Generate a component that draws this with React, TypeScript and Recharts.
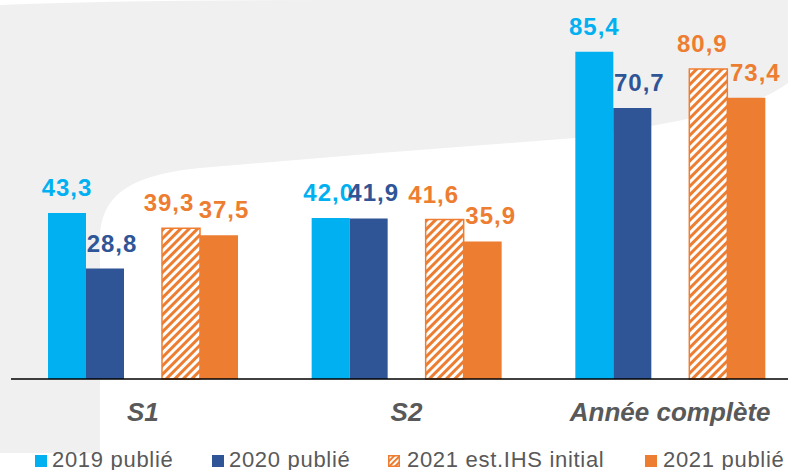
import React from "react";
import { Bar, BarChart, XAxis, YAxis } from "recharts";

const categories = ["S1", "S2", "Année complète"];
const pub2019 = [43.3, 42.0, 85.4];
const pub2020 = [28.8, 41.9, 70.7];
const est2021 = [39.3, 41.6, 80.9];
const pub2021 = [37.5, 35.9, 73.4];

const legendLabels = ["2019 publié", "2020 publié", "2021 est.IHS initial", "2021 publié"];

// small horizontal nudges so the value labels don't collide (like the original)
const nudge2019 = [0, -2, 0];
const nudge2020 = [7, 5, 7];
const nudgeEst = [-12, -11, -6];
const nudge2021 = [5, 8, 9];

const C2019 = "#00B0F0";
const C2020 = "#2F5597";
const C2021 = "#ED7D31";
const GREY_TEXT = "#595959";

const data = categories.map((name, i) => ({
  name,
  p2019: pub2019[i],
  p2020: pub2020[i],
  e2021: est2021[i],
  p2021: pub2021[i],
}));

const fmt = (v: number) => v.toFixed(1).replace(".", ",");

function makeLabel(color: string, nudges: number[]) {
  return (props: any) => {
    const vb = props.viewBox ?? {};
    const x = props.x ?? vb.x;
    const y = props.y ?? vb.y;
    const width = props.width ?? vb.width;
    const dx = nudges[props.index] ?? 0;
    if (props.value == null) return null;
    return (
      <text
        x={x + width / 2 + dx}
        y={y - 17}
        textAnchor="middle"
        fill={color}
        fontSize={24}
        fontWeight={700}
        letterSpacing={1}
        fontFamily="'Liberation Sans', Arial, sans-serif"
      >
        {fmt(Number(props.value))}
      </text>
    );
  };
}

const CategoryTick = (props: any) => {
  const { x, y, payload } = props;
  return (
    <text
      x={x}
      y={y + 42}
      textAnchor="middle"
      fill={GREY_TEXT}
      fontSize={26}
      fontWeight={700}
      fontStyle="italic"
      fontFamily="'Liberation Sans', Arial, sans-serif"
    >
      {payload.value}
    </text>
  );
};

const legendPos = [
  { box: 35, text: 52 },
  { box: 212, text: 229 },
  { box: 388, text: 407 },
  { box: 645, text: 663 },
];

function LegendSwatch({ i }: { i: number }) {
  if (i === 2) {
    return (
      <svg width={12} height={12} style={{ display: "block" }}>
        <rect x={0.75} y={0.75} width={10.5} height={10.5} fill="url(#hatchSmall)" stroke={C2021} strokeWidth={1.5} />
      </svg>
    );
  }
  const fill = [C2019, C2020, C2021, C2021][i];
  return <div style={{ width: 12, height: 12, background: fill }} />;
}

export default function App() {
  return (
    <div
      style={{
        position: "absolute",
        left: 0,
        top: 0,
        width: 788,
        height: 470,
        overflow: "hidden",
        background: "#fff",
        fontFamily: "'Liberation Sans', Arial, sans-serif",
      }}
    >
      <svg width={788} height={470} style={{ position: "absolute", left: 0, top: 0 }}>
        <defs>
          <pattern id="hatchSmall" patternUnits="userSpaceOnUse" width={4} height={4} patternTransform="rotate(45)">
            <rect width={4} height={4} fill="#fff" />
            <rect width={2} height={4} fill={C2021} />
          </pattern>
        </defs>
        <path
          d="M0,5 Q120,0 330,0 L788,0 L788,83 C760,105 700,120 575,138 L380,153 L200,168 C130,175 100,195 100,240 L100,453 L0,453 Z"
          fill="#F0F0F0"
        />
      </svg>

      <div style={{ position: "absolute", left: 0, top: 0 }}>
        <BarChart
          width={802}
          height={470}
          data={data}
          margin={{ top: 34, right: 0, bottom: 31, left: 11 }}
          barSize={38}
          barGap={0}
        >
          <defs>
            <pattern id="hatch" patternUnits="userSpaceOnUse" width={6} height={6} patternTransform="rotate(45)">
              <rect width={6} height={6} fill="#fff" />
              <rect width={3} height={6} fill={C2021} />
            </pattern>
          </defs>
          <XAxis
            dataKey="name"
            height={60}
            axisLine={{ stroke: "#000", strokeWidth: 1.5 }}
            tickLine={false}
            tickSize={0}
            tickMargin={0}
            tick={<CategoryTick />}
            interval={0}
          />
          <YAxis hide domain={[0, 90]} />
          <Bar dataKey="p2019" fill={C2019} isAnimationActive={false} label={makeLabel(C2019, nudge2019)} />
          <Bar dataKey="p2020" fill={C2020} isAnimationActive={false} label={makeLabel(C2020, nudge2020)} />
          <Bar dataKey="spacer" fill="transparent" isAnimationActive={false} legendType="none" />
          <Bar
            dataKey="e2021"
            fill="url(#hatch)"
            stroke={C2021}
            strokeWidth={1.5}
            isAnimationActive={false}
            label={makeLabel(C2021, nudgeEst)}
          />
          <Bar dataKey="p2021" fill={C2021} isAnimationActive={false} label={makeLabel(C2021, nudge2021)} />
        </BarChart>
      </div>

      {legendLabels.map((label, i) => (
        <React.Fragment key={label}>
          <div style={{ position: "absolute", left: legendPos[i].box, top: 455 }}>
            <LegendSwatch i={i} />
          </div>
          <div
            style={{
              position: "absolute",
              left: legendPos[i].text,
              top: 449,
              fontSize: 22,
              lineHeight: "22px",
              letterSpacing: 0.7,
              color: GREY_TEXT,
              whiteSpace: "nowrap",
            }}
          >
            {label}
          </div>
        </React.Fragment>
      ))}
    </div>
  );
}
